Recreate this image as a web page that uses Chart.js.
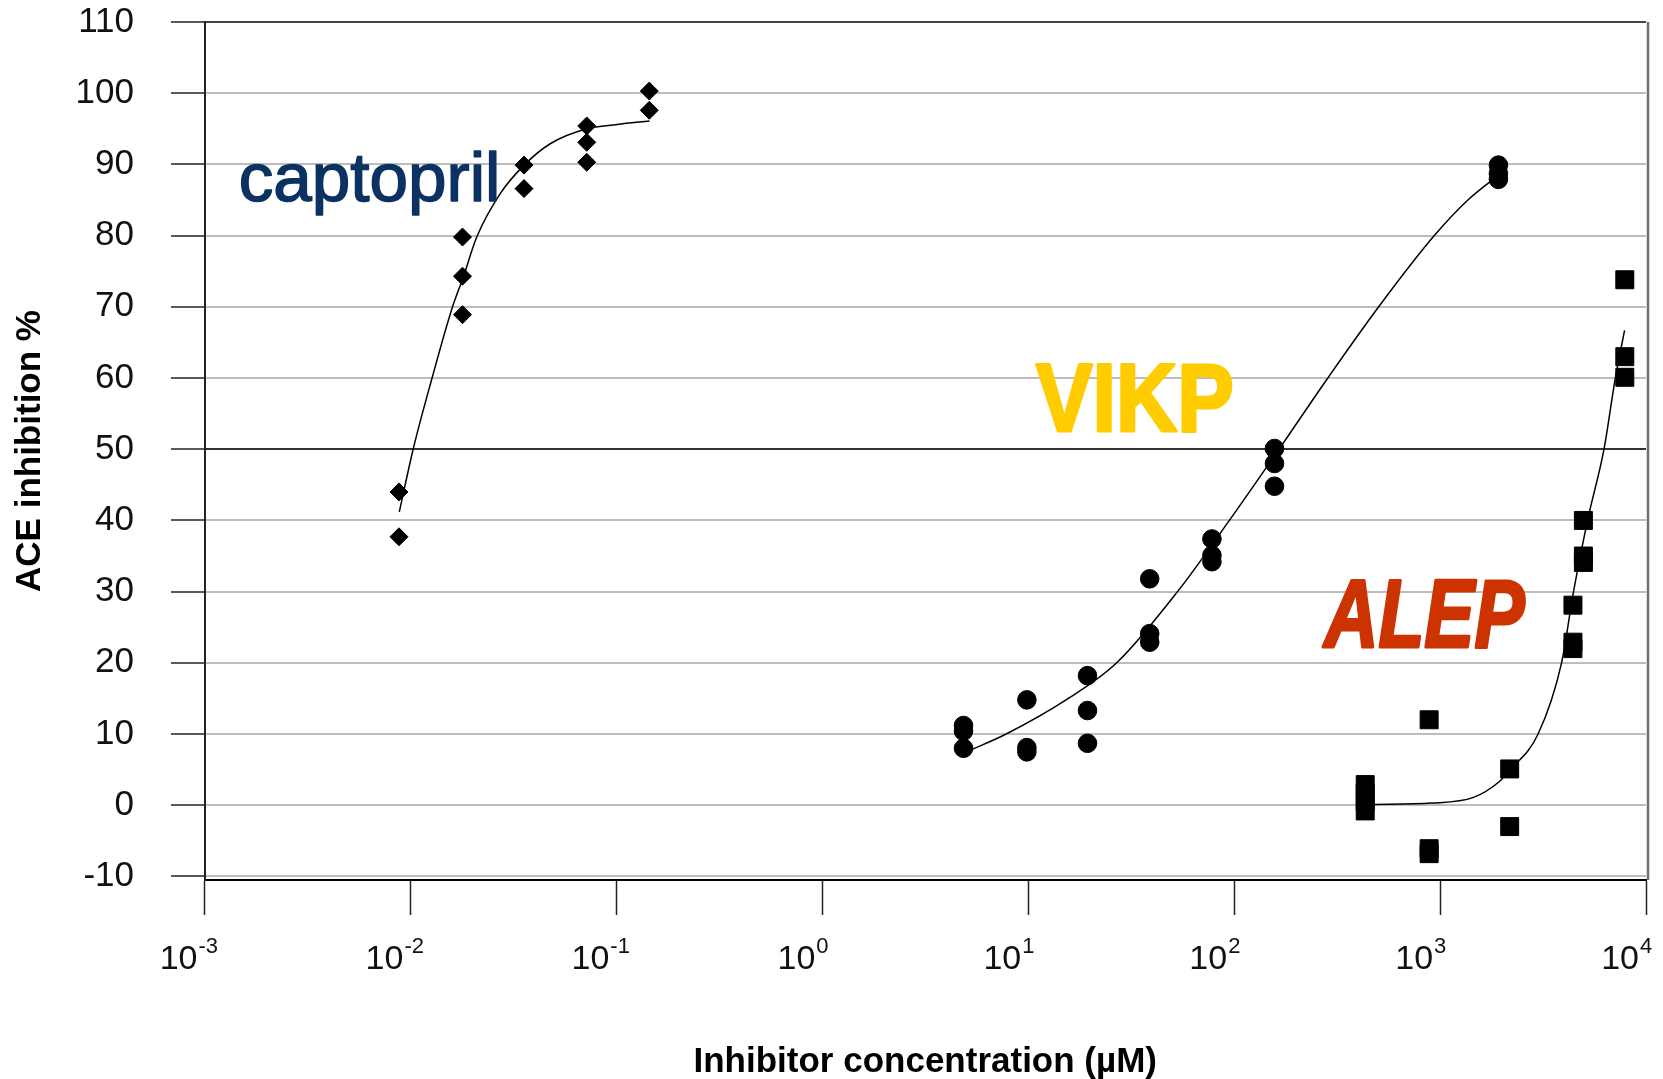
<!DOCTYPE html>
<html>
<head>
<meta charset="utf-8">
<script src="https://cdn.jsdelivr.net/npm/chart.js@4.4.0/dist/chart.umd.min.js"></script>
<style>
    html, body { margin: 0; padding: 0; background: #fff; }
</style>
</head>
<body>
<canvas id="myChart" width="1663" height="1079"></canvas>
<script>
//  Data Block
const xTicks = [0.001, 0.01, 0.1, 1, 10, 100, 1000, 10000];
const xExponents = ['-3', '-2', '-1', '0', '1', '2', '3', '4'];
const yTicks = [-10, 0, 10, 20, 30, 40, 50, 60, 70, 80, 90, 100, 110];

const captoprilX = [0.0088, 0.0088, 0.0179, 0.0179, 0.0179, 0.0356, 0.0356, 0.0718, 0.0718, 0.0718, 0.1445, 0.1445];
const captoprilY = [44.0, 37.7, 79.8, 74.3, 68.9, 89.9, 86.6, 95.4, 93.1, 90.3, 100.3, 97.6];

const vikpX = [4.85, 4.85, 4.85, 9.85, 9.85, 9.85, 19.4, 19.4, 19.4, 38.9, 38.9, 38.9, 78, 78, 78, 157, 157, 157, 1920, 1920, 1920];
const vikpY = [11.2, 10.4, 8.0, 14.8, 8.1, 7.5, 18.2, 13.3, 8.7, 31.8, 24.1, 22.9, 37.4, 35.1, 34.2, 50.1, 48.0, 44.8, 89.9, 88.7, 87.9];

const alepX = [433, 433, 433, 433, 885, 885, 885, 2178, 2178, 4418, 4418, 4418, 4966, 4966, 4966, 7890, 7890, 7890];
const alepY = [2.9, 1.7, 0.5, -0.8, 12.0, -6.1, -6.8, 5.1, -3.0, 28.1, 22.9, 22.0, 40.0, 35.0, 34.1, 73.8, 63.0, 60.1];

// fitted curves
const captoprilFitX = [0.00883, 0.01033, 0.01271, 0.01589, 0.01807, 0.02099, 0.02729, 0.03565, 0.04775, 0.07194, 0.1007, 0.1449];
const captoprilFitY = [41.2, 50.1, 59.9, 69.7, 74.2, 79.8, 85.9, 89.9, 92.9, 95.0, 95.6, 96.1];

const vikpFitX = [5.1, 7.82, 15.67, 26.9, 53.1, 94.8, 165.2, 285.1, 503.5, 937.6, 1365, 1923];
const vikpFitY = [7.6, 10, 15, 20, 30, 40, 50, 60, 70, 80, 85.0, 88.5];

const alepFitX = [460, 912, 1452, 1936, 2178, 2992, 3890, 4446, 5200, 6252, 7096, 7870];
const alepFitY = [0.1, 0.3, 1.1, 3.3, 4.9, 10, 20, 30, 40, 50, 60, 66.7];

function pairs(xs, ys) {
    return xs.map(function(x, i) { return { x: x, y: ys[i] }; });
}

//  Plugin Block: x tick labels as 10 with superscript exponent
const xLabels = {
    id: 'xLabels',
    afterDraw(chart) {
        const { ctx, chartArea: { bottom }, scales: { x } } = chart;
        ctx.save();
        ctx.fillStyle = '#111';
        ctx.textBaseline = 'alphabetic';
        xTicks.forEach(function(v, i) {
            const px = x.getPixelForValue(v);
            ctx.font = '34px "Liberation Sans", Arial, sans-serif';
            ctx.textAlign = 'right';
            ctx.fillText('10', px - 7, bottom + 89);
            ctx.font = '22px "Liberation Sans", Arial, sans-serif';
            ctx.textAlign = 'left';
            ctx.fillText(xExponents[i], px - 6, bottom + 73);
        });
        ctx.restore();
    }
};

//  Plugin Block: right frame line
const frameRight = {
    id: 'frameRight',
    afterDatasetsDraw(chart) {
        const { ctx, chartArea: { top, right, bottom } } = chart;
        ctx.save();
        ctx.strokeStyle = '#6e6e6e';
        ctx.lineWidth = 2.5;
        ctx.beginPath();
        ctx.moveTo(right + 2, top);
        ctx.lineTo(right + 2, bottom);
        ctx.stroke();
        ctx.restore();
    }
};

//  Plugin Block: the three compound names, stretched into their boxes
const names = {
    id: 'names',
    afterDatasetsDraw(chart, args, options) {
        const { ctx, scales: { x, y } } = chart;
        options.items.forEach(function(it) {
            const left = x.getPixelForValue(it.x0);
            const right = x.getPixelForValue(it.x1);
            const top = y.getPixelForValue(it.yTop);
            const base = y.getPixelForValue(it.yBase);
            ctx.save();
            ctx.font = it.font;
            const m = ctx.measureText(it.text);
            const w = m.actualBoundingBoxLeft + m.actualBoundingBoxRight;
            const h = m.actualBoundingBoxAscent;
            ctx.translate(left, base);
            ctx.scale((right - left) / w, (base - top) / h);
            ctx.fillStyle = it.color;
            ctx.strokeStyle = it.color;
            ctx.lineJoin = 'round';
            ctx.lineWidth = it.stroke;
            ctx.textAlign = 'left';
            ctx.textBaseline = 'alphabetic';
            ctx.fillText(it.text, m.actualBoundingBoxLeft, 0);
            ctx.strokeText(it.text, m.actualBoundingBoxLeft, 0);
            ctx.restore();
        });
    }
};

const pointBase = { backgroundColor: '#000', borderColor: '#000', borderWidth: 1, showLine: false };
const lineBase = { showLine: true, pointRadius: 0, pointHoverRadius: 0, borderColor: '#000', borderWidth: 1.5,
                   cubicInterpolationMode: 'monotone', fill: false };

//  Config Block
const config = {
    type: 'scatter',
    data: {
        datasets: [
            Object.assign({ label: 'captopril', data: pairs(captoprilX, captoprilY), pointStyle: 'rectRot', pointRadius: 9 }, pointBase),
            Object.assign({ label: 'VIKP', data: pairs(vikpX, vikpY), pointStyle: 'circle', pointRadius: 9.3 }, pointBase),
            Object.assign({ label: 'ALEP', data: pairs(alepX, alepY), pointStyle: 'rect', pointRadius: 12.7 }, pointBase),
            Object.assign({ label: 'captopril fit', data: pairs(captoprilFitX, captoprilFitY) }, lineBase),
            Object.assign({ label: 'VIKP fit', data: pairs(vikpFitX, vikpFitY) }, lineBase),
            Object.assign({ label: 'ALEP fit', data: pairs(alepFitX, alepFitY) }, lineBase)
        ]
    },
    options: {
        responsive: false,
        animation: false,
        layout: { padding: { top: 22, right: 17, left: 0, bottom: 0 } },
        plugins: {
            legend: { display: false },
            tooltip: { enabled: false },
            names: {
                items: [
                    { text: 'captopril', font: '68px "Liberation Sans", Arial, sans-serif', color: '#0b3262', stroke: 1.5,
                      x0: 0.00150, x1: 0.0261, yTop: 91.8, yBase: 84.8 },
                    { text: 'VIKP', font: 'bold 93px "Liberation Sans", Arial, sans-serif', color: '#ffcc00', stroke: 3,
                      x0: 10.9, x1: 96.6, yTop: 62.0, yBase: 52.6 },
                    { text: 'ALEP', font: 'italic bold 93px "Liberation Sans", Arial, sans-serif', color: '#cc3300', stroke: 3,
                      x0: 269, x1: 2594, yTop: 31.6, yBase: 22.2 }
                ]
            }
        },
        scales: {
            x: {
                type: 'logarithmic',
                min: 0.001,
                max: 10000,
                afterBuildTicks: function(s) { s.ticks = xTicks.map(function(v) { return { value: v }; }); },
                afterFit: function(s) { s.height = 199; s.paddingLeft = 0; s.paddingRight = 0; },
                grid: { drawOnChartArea: false, drawTicks: true, tickLength: 35, tickColor: '#222', tickWidth: 1.5 },
                border: { display: true, color: '#000', width: 2 },
                ticks: { display: false },
                title: {
                    display: true,
                    text: 'Inhibitor concentration (µM)',
                    color: '#000',
                    font: { family: '"Liberation Sans", Arial, sans-serif', weight: 'bold', size: 35 },
                    padding: { top: 0, bottom: -4 }
                }
            },
            y: {
                min: -10.5,
                max: 110,
                afterBuildTicks: function(s) { s.ticks = yTicks.map(function(v) { return { value: v }; }); },
                afterFit: function(s) { s.width = 204.5; s.paddingTop = 0; s.paddingBottom = 0; },
                grid: {
                    color: function(c) {
                        if (c.tick && c.tick.value === 50) return '#333';
                        if (c.tick && c.tick.value === 110) return '#444';
                        return '#bdbdbd';
                    },
                    lineWidth: 2,
                    drawTicks: true,
                    tickLength: 33.5,
                    tickColor: '#222',
                    tickWidth: 1.5
                },
                border: { display: true, color: '#222', width: 2 },
                ticks: {
                    color: '#111',
                    padding: 37,
                    font: { family: '"Liberation Sans", Arial, sans-serif', size: 35 }
                },
                title: {
                    display: true,
                    text: 'ACE inhibition %',
                    color: '#000',
                    font: { family: '"Liberation Sans", Arial, sans-serif', weight: 'bold', size: 35 },
                    padding: { top: 9, bottom: 0 }
                }
            }
        }
    },
    plugins: [xLabels, frameRight, names]
};

//  Render Init Block
const myChart = new Chart(document.getElementById('myChart'), config);
</script>
</body>
</html>
